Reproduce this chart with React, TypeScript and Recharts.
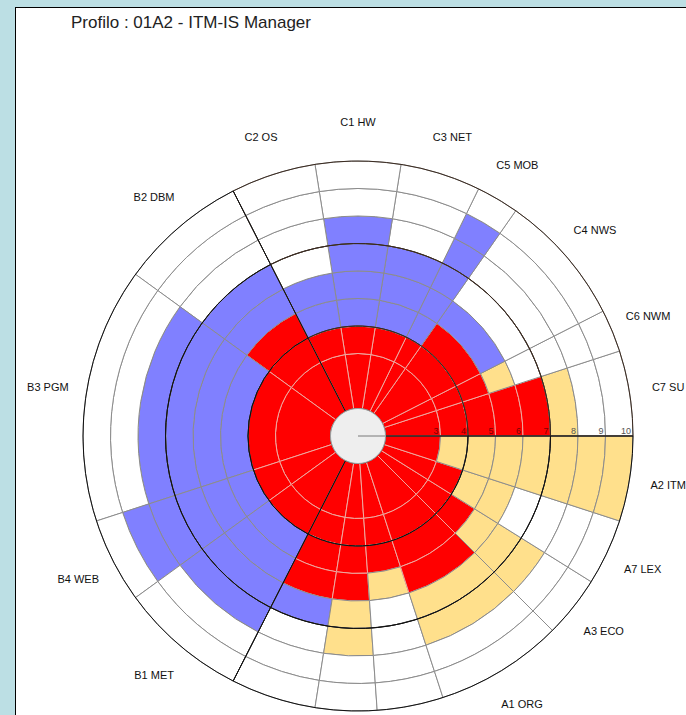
import { PieChart, Pie, Cell } from 'recharts'

// sectors counter-clockwise from 3 o'clock; names at the bottom are cropped in the source
const categories = ['C7 SU', 'C6 NWM', 'C4 NWS', 'C5 MOB', 'C3 NET', 'C1 HW', 'C2 OS', 'B2 DBM', 'B3 PGM', 'B4 WEB', 'B1 MET', '', '', '', 'A1 ORG', 'A3 ECO', 'A7 LEX', 'A2 ITM']
const spans = [18, 9, 28, 9, 17, 18, 18, 27, 54, 18, 27, 18, 13, 14, 27, 13, 14, 18]
const current = [7, 5, 5, 4, 4, 4, 4, 5, 4, 4, 4, 6, 6, 5, 6, 5, 4, 3]
const required = [8, 6, 6, 9, 7, 8, 6, 7, 8, 9, 8, 7, 8, 6, 8, 8, 6, 10]
const kinds = ['y', 'y', 'b', 'b', 'b', 'b', 'b', 'b', 'b', 'b', 'b', 'b', 'y', 'y', 'y', 'y', 'y', 'y']
const blocks = [0, 0, 0, 0, 0, 0, 0, 1, 1, 1, 1, 2, 2, 2, 2, 2, 2, 2]
const blockNames = ['C', 'B', 'A']
const ringValues = [1, 3, 4, 5, 6, 7, 8, 9, 10]
const boldRings = [1, 4, 7, 10]
const radiusTicks = [3, 4, 5, 6, 7, 8, 9, 10]

const CX = 358
const CY = 436
const R_MAX = 275
const V_MAX = 10
const LABEL_R = 314
const RAD = Math.PI / 180

const RED = '#ff0000'
const BLUE = '#8080ff'
const YELLOW = '#ffe08c'
const FONT = '"Liberation Sans", Arial, sans-serif'

const radius = (v: number) => (v / V_MAX) * R_MAX

const rows = categories.map((name, i) => ({
  name,
  span: spans[i],
  current: current[i],
  required: required[i],
  kind: kinds[i],
  block: blocks[i],
}))

const blockRows = blockNames.map((name, k) => ({
  name,
  span: rows.filter(r => r.block === k).reduce((s, r) => s + r.span, 0),
}))

function renderLabel(p: any) {
  if (!p.name) return null
  const a = -p.midAngle * RAD
  return (
    <text
      x={p.cx + LABEL_R * Math.cos(a)}
      y={p.cy + LABEL_R * Math.sin(a)}
      textAnchor="middle"
      dominantBaseline="central"
      fontSize={11}
      fontFamily={FONT}
      fill="#111"
    >
      {p.name}
    </text>
  )
}

// radius axis values along the 0 degree line, drawn as the last label layer
function renderTicks(p: any) {
  return (
    <g>
      {radiusTicks.map(v => (
        <text
          key={v}
          x={p.cx + radius(v) - 2}
          y={p.cy - 2}
          textAnchor="end"
          fontSize={9}
          fontFamily={FONT}
          fill={v < 8 ? '#7a0000' : '#555'}
        >
          {v}
        </text>
      ))}
    </g>
  )
}

export default function App() {
  return (
    <div
      style={{
        position: 'absolute',
        left: 0,
        top: 0,
        width: 686,
        height: 715,
        overflow: 'hidden',
        background: '#bcdfe4',
        fontFamily: FONT,
      }}
    >
      <div
        style={{
          position: 'absolute',
          left: 15,
          top: 7,
          width: 720,
          height: 760,
          background: '#fff',
          border: '1px solid #000',
        }}
      />
      <div style={{ position: 'absolute', left: 71, top: 13, fontSize: 17, color: '#222', whiteSpace: 'nowrap' }}>
        Profilo : 01A2 - ITM-IS Manager
      </div>
      <div style={{ position: 'absolute', left: 0, top: 0 }}>
        <PieChart width={686} height={715} margin={{ top: 0, right: 0, bottom: 0, left: 0 }}>
          <Pie
            data={rows}
            dataKey="span"
            cx={CX}
            cy={CY}
            innerRadius={0}
            outerRadius={R_MAX}
            startAngle={0}
            endAngle={360}
            label={renderLabel}
            labelLine={false}
            isAnimationActive={false}
          >
            {rows.map((_, i) => (
              <Cell key={i} fill="none" stroke="none" />
            ))}
          </Pie>

          {ringValues.slice(0, -1).map((lo, b) => {
            const hi = ringValues[b + 1]
            return (
              <Pie
                key={`band-${b}`}
                data={rows}
                dataKey="span"
                cx={CX}
                cy={CY}
                innerRadius={radius(lo)}
                outerRadius={radius(hi)}
                startAngle={0}
                endAngle={360}
                isAnimationActive={false}
              >
                {rows.map((row, i) => {
                  const fill =
                    hi <= row.current ? RED : hi <= row.required ? (row.kind === 'y' ? YELLOW : BLUE) : '#fff'
                  return (
                    <Cell key={i} fill={fill} stroke={fill === RED ? '#eea9a0' : '#8c8c8c'} strokeWidth={1} />
                  )
                })}
              </Pie>
            )
          })}

          {boldRings.slice(0, -1).map((lo, k) => (
            <Pie
              key={`bold-${k}`}
              data={blockRows}
              dataKey="span"
              cx={CX}
              cy={CY}
              innerRadius={radius(lo)}
              outerRadius={radius(boldRings[k + 1])}
              startAngle={0}
              endAngle={360}
              isAnimationActive={false}
            >
              {blockRows.map((_, i) => (
                <Cell key={i} fill="none" stroke={i === 0 ? '#3a2a20' : '#111'} strokeWidth={1} />
              ))}
            </Pie>
          ))}

          <Pie
            data={[{ name: 'hole', span: 1 }]}
            dataKey="span"
            cx={CX}
            cy={CY}
            innerRadius={0}
            outerRadius={radius(1)}
            startAngle={0}
            endAngle={360}
            label={renderTicks}
            labelLine={false}
            isAnimationActive={false}
          >
            <Cell fill="#eeeeee" stroke="#a0a0a0" />
          </Pie>
        </PieChart>
      </div>
    </div>
  )
}
